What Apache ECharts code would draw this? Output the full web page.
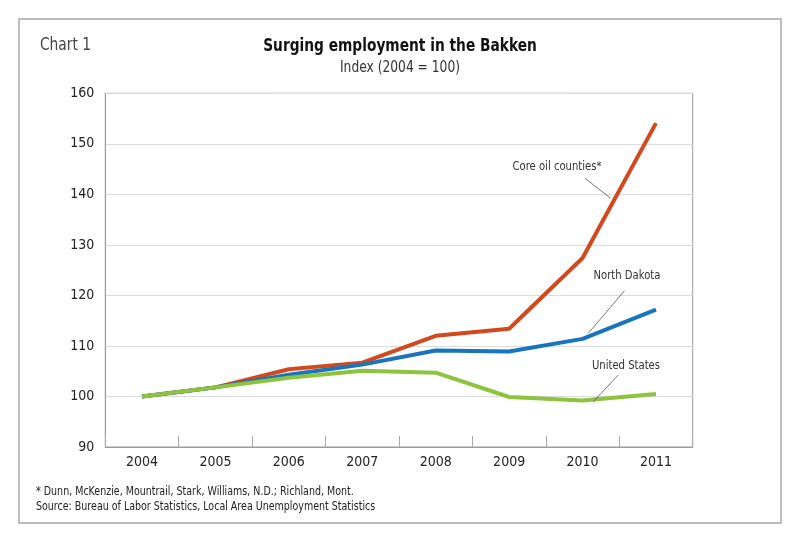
<!DOCTYPE html>
<html>
<head>
<meta charset="utf-8">
<script src="https://cdn.jsdelivr.net/npm/echarts@6/dist/echarts.min.js"></script>
<style>
html,body{margin:0;padding:0;background:#fff;}
#chart{width:800px;height:543px;}
</style>
</head>
<body>
<div id="chart"></div>
<script>
const years = ['2004','2005','2006','2007','2008','2009','2010','2011'];
const coreOil = [100, 101.8, 105.4, 106.7, 112.0, 113.4, 127.4, 154.1];
const northDakota = [100, 101.8, 104.3, 106.3, 109.1, 108.9, 111.4, 117.2];
const unitedStates = [100, 101.8, 103.7, 105.1, 104.7, 99.9, 99.2, 100.5];
const yTicks = {min: 90, max: 160, interval: 10};
const seriesNames = ['Core oil counties*', 'North Dakota', 'United States'];
const footnote1 = '* Dunn, McKenzie, Mountrail, Stark, Williams, N.D.; Richland, Mont.';
const footnote2 = 'Source: Bureau of Labor Statistics, Local Area Unemployment Statistics';

const FONT = "'DejaVu Sans Condensed', 'DejaVu Sans', sans-serif";
const chart = echarts.init(document.getElementById('chart'), null, {renderer: 'canvas'});

const txt = (text, x, y, size, opts) => ({
  type: 'text', x: x, y: y, scaleX: (opts && opts.sx) || 0.88, z: 100,
  style: {text: text, font: ((opts && opts.weight) || 'normal') + ' ' + size + 'px ' + FONT,
          fill: (opts && opts.fill) || '#333', align: (opts && opts.align) || 'center', verticalAlign: 'middle'}
});
const leader = (x1, y1, x2, y2) => ({type: 'line', shape: {x1: x1, y1: y1, x2: x2, y2: y2}, style: {stroke: '#555', lineWidth: 0.8}, z: 100});

chart.setOption({
  animation: false,
  backgroundColor: '#fff',
  grid: {left: 105.3, right: 107.3, top: 93.3, bottom: 96, show: true, borderColor: '#9a9a9a', borderWidth: 1},
  xAxis: {
    type: 'category', data: years, boundaryGap: true,
    axisLine: {lineStyle: {color: '#9a9a9a', width: 1}},
    axisTick: {show: true, inside: true, length: 11, interval: 0, lineStyle: {color: '#aaa'}},
    axisLabel: {fontFamily: FONT, fontSize: 14, color: '#222', margin: 8, interval: 0},
    splitLine: {show: false}
  },
  yAxis: {
    type: 'value', min: yTicks.min, max: yTicks.max, interval: yTicks.interval,
    axisLine: {show: true, lineStyle: {color: '#9a9a9a', width: 1}},
    axisTick: {show: false},
    axisLabel: {fontFamily: FONT, fontSize: 14, color: '#222', margin: 11},
    splitLine: {show: true, lineStyle: {color: '#dcdcdc', width: 1.2}}
  },
  series: [
    {name: seriesNames[0], type: 'line', data: coreOil, symbol: 'none', lineStyle: {color: '#D2491E', width: 4}, z: 2},
    {name: seriesNames[1], type: 'line', data: northDakota, symbol: 'none', lineStyle: {color: '#1874BC', width: 4}, z: 3},
    {name: seriesNames[2], type: 'line', data: unitedStates, symbol: 'none', lineStyle: {color: '#8CC43E', width: 4}, z: 4}
  ],
  graphic: [
    {type: 'rect', shape: {x: 19, y: 19, width: 762, height: 504}, style: {fill: 'none', stroke: '#a8a8a8', lineWidth: 1.5}, z: -1},
    txt('Surging employment in the Bakken', 400, 46, 18, {weight: 'bold', fill: '#111', sx: 0.85}),
    txt('Index (2004 = 100)', 400, 68, 15, {fill: '#333', sx: 0.91}),
    txt('Chart 1', 40, 46, 17, {align: 'left', fill: '#444', sx: 0.9}),
    txt(seriesNames[0], 557, 167, 13, {sx: 0.86}),
    leader(585, 178.3, 610.7, 198.3),
    txt(seriesNames[1], 627, 275.7, 13, {sx: 0.86}),
    leader(624.3, 291, 588.3, 333.3),
    txt(seriesNames[2], 626, 365.7, 13, {sx: 0.86}),
    leader(618.3, 375, 593.3, 401.7),
    txt(footnote1, 36, 492, 12, {align: 'left', fill: '#222', sx: 0.88}),
    txt(footnote2, 36, 507, 12, {align: 'left', fill: '#222', sx: 0.88})
  ]
});
</script>
</body>
</html>
